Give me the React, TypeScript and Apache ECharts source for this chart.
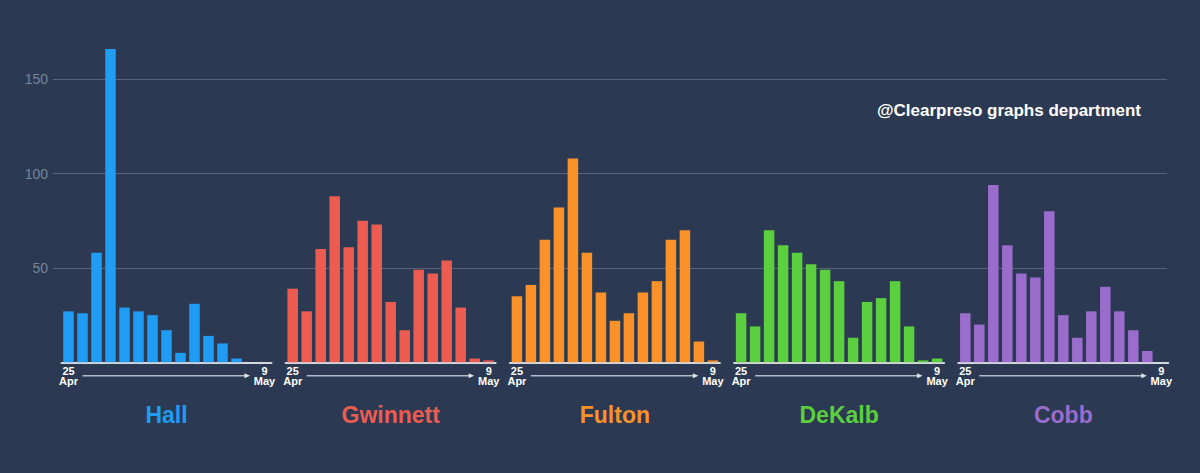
import React, { useEffect, useRef } from "react";
import * as echarts from "echarts";

const dates = [
  "25 Apr", "26 Apr", "27 Apr", "28 Apr", "29 Apr", "30 Apr",
  "1 May", "2 May", "3 May", "4 May", "5 May", "6 May", "7 May", "8 May", "9 May",
];
const counties = ["Hall", "Gwinnett", "Fulton", "DeKalb", "Cobb"];
const colors = ["#1f9cf4", "#ee5b50", "#fb9229", "#5bcf3d", "#9a6ccb"];
const hall = [27, 26, 58, 166, 29, 27, 25, 17, 5, 31, 14, 10, 2, 0, 0];
const gwinnett = [39, 27, 60, 88, 61, 75, 73, 32, 17, 49, 47, 54, 29, 2, 1];
const fulton = [35, 41, 65, 82, 108, 58, 37, 22, 26, 37, 43, 65, 70, 11, 1];
const dekalb = [26, 19, 70, 62, 58, 52, 49, 43, 13, 32, 34, 43, 19, 1, 2];
const cobb = [26, 20, 94, 62, 47, 45, 80, 25, 13, 27, 40, 27, 17, 6, 0];
const yTicks = [50, 100, 150];
const seriesData = [hall, gwinnett, fulton, dekalb, cobb];

const FONT = "Liberation Sans, Arial, sans-serif";

export default function App() {
  const ref = useRef<HTMLDivElement>(null);
  useEffect(() => {
    document.body.style.margin = "0";
    document.body.style.background = "#2b3a52";
    const chart = echarts.init(ref.current!, undefined, { renderer: "svg" });
    const top = 41.5;
    const bottom = 110.7;
    const panelLeft = (i: number) => 61.5 + i * 224.2;
    const panelWidth = 210;

    const grids: any[] = [{ left: 53, right: 33, top, bottom }];
    const xAxes: any[] = [{ gridIndex: 0, type: "value", show: false }];
    const yAxes: any[] = [
      {
        gridIndex: 0,
        type: "value",
        min: 0,
        max: 170,
        interval: 50,
        axisLine: { show: false },
        axisTick: { show: false },
        axisLabel: {
          color: "#77849a",
          fontSize: 14,
          fontFamily: FONT,
          margin: 5,
          formatter: (v: number) => (yTicks.includes(v) ? String(v) : ""),
        },
        splitLine: {
          show: true,
          showMinLine: false,
          showMaxLine: false,
          lineStyle: { color: "#56657b", width: 1 },
        },
      },
    ];
    const series: any[] = [];
    const graphic: any[] = [];

    counties.forEach((name, i) => {
      grids.push({ left: panelLeft(i), width: panelWidth, top, bottom });
      xAxes.push({
        gridIndex: i + 1,
        type: "category",
        data: dates,
        axisLine: { lineStyle: { color: "#d4d8de", width: 2 } },
        axisTick: { show: false },
        axisLabel: {
          interval: (idx: number) => idx === 0 || idx === dates.length - 1,
          formatter: (v: string) => v.replace(" ", "\n"),
          color: "#ffffff",
          fontWeight: "bold",
          fontSize: 11,
          lineHeight: 10,
          margin: 4,
          fontFamily: FONT,
        },
      });
      yAxes.push({ gridIndex: i + 1, type: "value", min: 0, max: 170, show: false });
      series.push({
        type: "bar",
        name,
        xAxisIndex: i + 1,
        yAxisIndex: i + 1,
        data: seriesData[i],
        barCategoryGap: "25%",
        itemStyle: { color: colors[i] },
      });
      const L = panelLeft(i);
      graphic.push({
        type: "line",
        shape: { x1: L + 21, y1: 375.7, x2: L + 184, y2: 375.7 },
        style: { stroke: "#b4bbc6", lineWidth: 1.5 },
      });
      graphic.push({
        type: "polygon",
        shape: { points: [[L + 183, 373.2], [L + 188.5, 375.7], [L + 183, 378.2]] },
        style: { fill: "#e0e3e8" },
      });
      graphic.push({
        type: "text",
        x: L + panelWidth / 2,
        y: 415,
        style: {
          text: name,
          fill: colors[i],
          font: `bold 23px ${FONT}`,
          textAlign: "center",
          textVerticalAlign: "middle",
        },
      });
    });

    graphic.push({
      type: "text",
      x: 1141,
      y: 110,
      style: {
        text: "@Clearpreso graphs department",
        fill: "#ffffff",
        font: `bold 17px ${FONT}`,
        textAlign: "right",
        textVerticalAlign: "middle",
      },
    });

    chart.setOption({
      animation: false,
      backgroundColor: "#2b3a52",
      grid: grids,
      xAxis: xAxes,
      yAxis: yAxes,
      series,
      graphic,
    });
    return () => chart.dispose();
  }, []);
  return <div ref={ref} style={{ width: 1200, height: 473 }} />;
}
